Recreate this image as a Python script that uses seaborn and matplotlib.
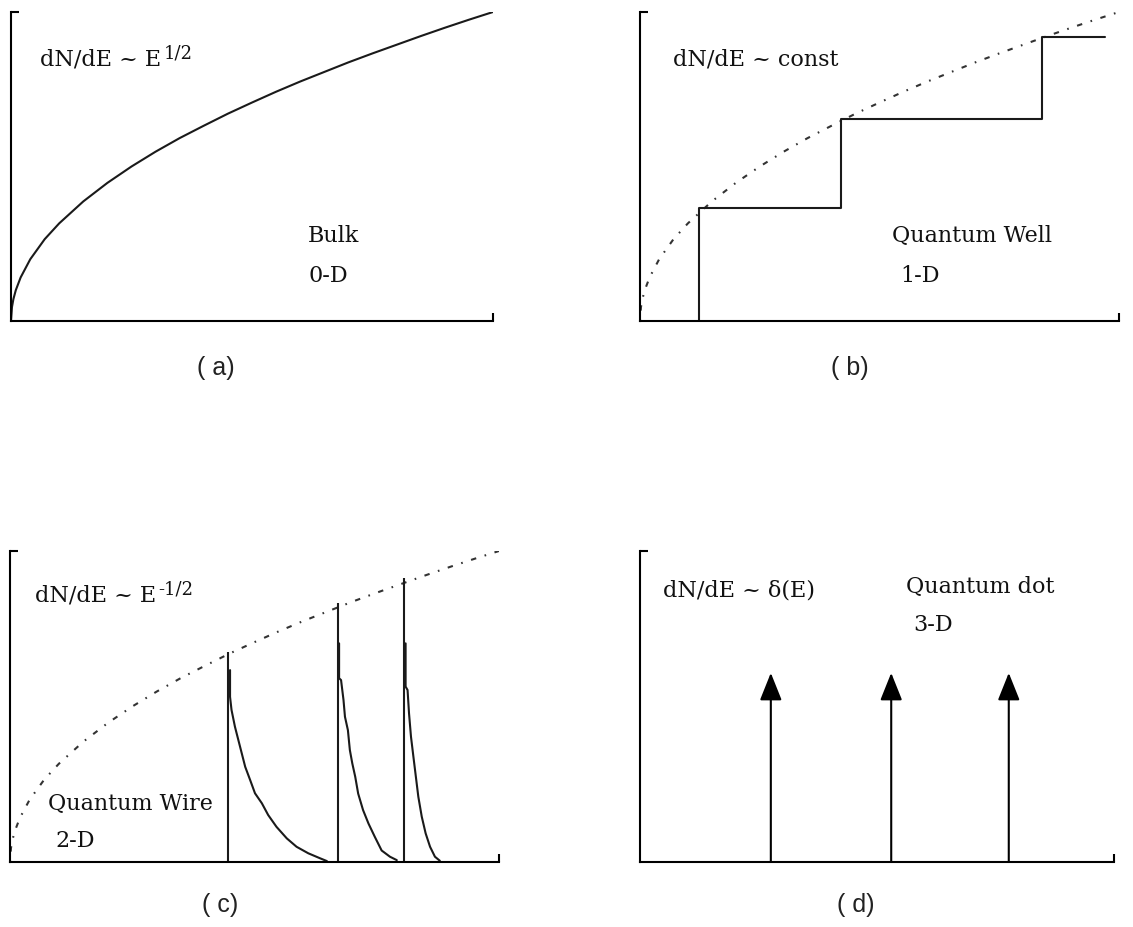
import matplotlib
matplotlib.use("Agg")
import matplotlib.pyplot as plt
import seaborn as sns

# ---------------- data ----------------
energy = [0, 0.02, 0.05, 0.1, 0.2, 0.4, 0.7, 1.0, 1.5, 2, 2.5, 3, 3.5, 4, 4.5,
          5, 5.5, 6, 6.5, 7, 7.5, 8, 8.5, 9, 9.5, 10]
dos_bulk = [0, 0.45, 0.71, 1.0, 1.41, 2.0, 2.65, 3.16, 3.87, 4.47, 5.0, 5.48,
            5.92, 6.32, 6.71, 7.07, 7.42, 7.75, 8.06, 8.37, 8.66, 8.94, 9.22,
            9.49, 9.75, 10.0]

well_edges = [1.23, 4.20, 8.39]
well_levels = [3.66, 6.54, 9.19]
well_end = 9.71

wire_edges = [4.46, 6.70, 8.06]
wire_tops = [6.75, 8.33, 9.13]
wire1_E = [4.50, 4.50, 4.53, 4.60, 4.67, 4.74, 4.81, 4.91, 5.01, 5.15, 5.28,
           5.45, 5.66, 5.86, 6.10, 6.34, 6.48]
wire1_D = [6.17, 5.31, 4.89, 4.35, 3.92, 3.49, 3.06, 2.64, 2.21, 1.89, 1.51,
           1.13, 0.76, 0.49, 0.28, 0.12, 0.03]
wire2_E = [6.73, 6.73, 6.77, 6.82, 6.85, 6.91, 6.95, 7.00, 7.06, 7.12, 7.22,
           7.33, 7.46, 7.60, 7.77, 7.91]
wire2_D = [7.03, 5.91, 5.85, 5.21, 4.67, 4.24, 3.60, 3.17, 2.74, 2.20, 1.67,
           1.24, 0.81, 0.37, 0.17, 0.06]
wire3_E = [8.09, 8.09, 8.13, 8.16, 8.20, 8.25, 8.30, 8.35, 8.42, 8.50, 8.59,
           8.69, 8.79]
wire3_D = [7.03, 5.64, 5.53, 4.78, 4.03, 3.38, 2.74, 2.10, 1.46, 0.92, 0.49,
           0.17, 0.04]

dot_levels = [2.76, 5.30, 7.78]
dot_height = 6.08

panel_labels = ["( a)", "( b)", "( c)", "( d)"]

# ---------------- styling ----------------
sns.set_style("white")
plt.rcParams["font.family"] = ["DejaVu Serif"]

W, H = 1133, 927
fig = plt.figure(figsize=(W / 100, H / 100), dpi=100)
fig.patch.set_facecolor("white")


def make_axes(left, top, right, bottom):
    return fig.add_axes([left / W, 1 - bottom / H, (right - left) / W, (bottom - top) / H])


axA = make_axes(11, 12, 493, 321)
axB = make_axes(640, 12, 1119, 321)
axC = make_axes(10, 551, 499, 862)
axD = make_axes(640, 551, 1114, 862)

LC = "#1a1a1a"
LW = 1.5
dotted = (0, (0.8, 4.2, 2.6, 4.2))

for ax in (axA, axB, axC, axD):
    ax.set_xlim(0, 10)
    ax.set_ylim(0, 10)
    ax.set_facecolor("white")
    for s in ("top", "right"):
        ax.spines[s].set_visible(False)
    for s in ("left", "bottom"):
        ax.spines[s].set_color("black")
        ax.spines[s].set_linewidth(1.5)
    ax.set_xticks([10])
    ax.set_yticks([10])
    ax.set_xticklabels([""])
    ax.set_yticklabels([""])
    ax.tick_params(direction="in", length=5.5, width=1.5, color="black",
                   bottom=True, left=True)
    ax.set_xlabel("")
    ax.set_ylabel("")

# (a) bulk
sns.lineplot(x=energy, y=dos_bulk, ax=axA, color=LC, lw=LW, sort=False, estimator=None)

# (b) quantum well
sns.lineplot(x=energy, y=dos_bulk, ax=axB, color="#333333", lw=1.5, sort=False,
             estimator=None, linestyle=dotted)
step_x = [well_edges[0]] + well_edges + [well_end]
step_y = [0] + well_levels + [well_levels[-1]]
sns.lineplot(x=step_x, y=step_y, ax=axB, color=LC, lw=LW, sort=False,
             estimator=None, drawstyle="steps-post")

# (c) quantum wire
sns.lineplot(x=energy, y=dos_bulk, ax=axC, color="#333333", lw=1.5, sort=False,
             estimator=None, linestyle=dotted)
axC.vlines(wire_edges, 0, wire_tops, color=LC, lw=LW)
for ex, dy in ((wire1_E, wire1_D), (wire2_E, wire2_D), (wire3_E, wire3_D)):
    sns.lineplot(x=ex, y=dy, ax=axC, color=LC, lw=1.5, sort=False, estimator=None)

# (d) quantum dot
for xe in dot_levels:
    axD.annotate("", xy=(xe, dot_height), xytext=(xe, 0),
                 arrowprops=dict(arrowstyle="-|>,head_length=1.7,head_width=0.68",
                                 lw=LW, color="black", shrinkA=0, shrinkB=0,
                                 mutation_scale=10))

# ---------------- texts ----------------
FS = 16
TC = "#111111"


def ftext(x, y, s, size=FS):
    fig.text(x / W, 1 - y / H, s, va="baseline", ha="left", color=TC, fontsize=size)


ftext(40, 65, "dN/dE ~ E")
ftext(164, 59, "1/2", size=13)
ftext(308, 242, "Bulk")
ftext(309, 282, "0-D")

ftext(673, 65, "dN/dE ~ const")
ftext(892, 242, "Quantum Well")
ftext(900, 282, "1-D")

ftext(35, 602, "dN/dE ~ E")
ftext(158, 595, "-1/2", size=13)
ftext(48, 810, "Quantum Wire")
ftext(55, 847, "2-D")

ftext(663, 596, "dN/dE ~ δ(E)")
ftext(906, 593, "Quantum dot")
ftext(913, 631, "3-D")

for (cx, cy), lab in zip([(216, 368), (850, 368), (220, 905), (856, 905)], panel_labels):
    fig.text(cx / W, 1 - cy / H, lab, ha="center", va="center", fontsize=18,
             family=["Liberation Sans", "DejaVu Sans"], color="#222222")

fig.savefig("out.png", dpi=100, facecolor="white")
